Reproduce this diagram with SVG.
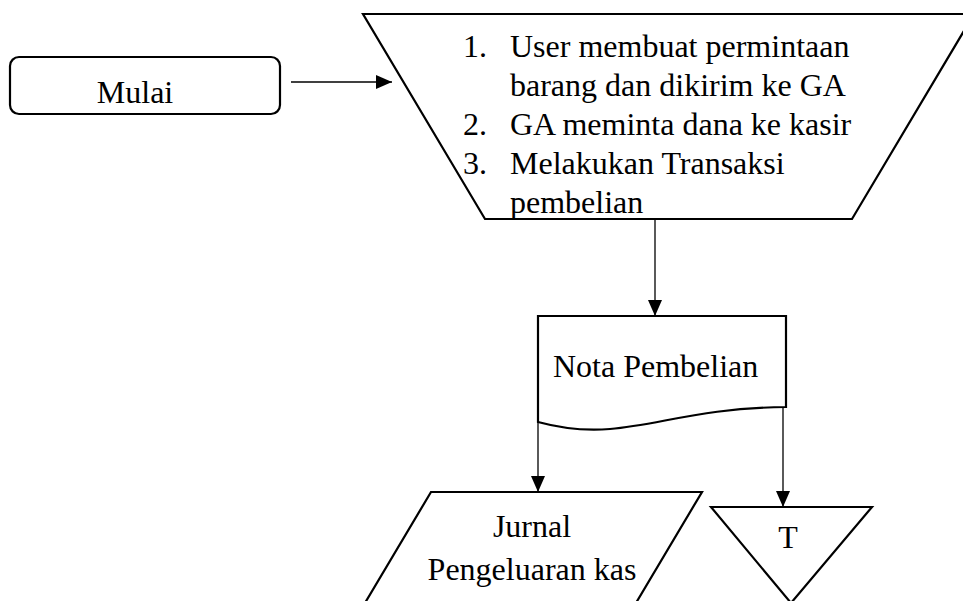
<svg xmlns="http://www.w3.org/2000/svg" width="963" height="601" viewBox="0 0 963 601">
<style>
.shape{fill:#fff;stroke:#000;stroke-width:2.2;stroke-linejoin:miter}
.conn{fill:none;stroke:#000;stroke-width:1.3}
text{font-family:"Liberation Serif","Times New Roman",serif;font-size:32px;fill:#000}
.mid{text-anchor:middle}
</style>
<defs>
<marker id="arr" markerUnits="userSpaceOnUse" markerWidth="16" markerHeight="16" viewBox="0 0 16 16" refX="16" refY="8" orient="auto">
<path d="M0,1 L16,8 L0,15 Z" fill="#000"/>
</marker>
</defs>
<rect width="963" height="601" fill="#fff"/>
<g id="mulai">
<rect class="shape" x="10" y="57" width="270" height="57" rx="9" ry="9"/>
<text class="mid" x="135" y="103">Mulai</text>
</g>
<g id="proses">
<polygon class="shape" points="363,14 974,14 852,219 485,219"/>
<text x="463" y="57">1.</text>
<text x="510" y="57">User membuat permintaan</text>
<text x="510" y="96">barang dan dikirim ke GA</text>
<text x="463" y="135">2.</text>
<text x="510" y="135">GA meminta dana ke kasir</text>
<text x="463" y="174">3.</text>
<text x="510" y="174">Melakukan Transaksi</text>
<text x="510" y="213">pembelian</text>
</g>
<g id="nota">
<path class="shape" d="M538,316 H786 V407 C700,408 660,425 610,429 C585,431 560,428 538,422 Z"/>
<text x="553" y="377">Nota Pembelian</text>
</g>
<g id="jurnal">
<polygon class="shape" points="431,492 702,492 633,608 362,608"/>
<text class="mid" x="532" y="537">Jurnal</text>
<text class="mid" x="532" y="580">Pengeluaran kas</text>
</g>
<g id="arsip">
<polygon class="shape" points="711,507 872,507 791,603"/>
<text class="mid" x="788" y="548">T</text>
</g>
<g id="connectors">
<line class="conn" x1="291" y1="82" x2="392" y2="82" marker-end="url(#arr)"/>
<line class="conn" x1="655" y1="219" x2="655" y2="316" marker-end="url(#arr)"/>
<line class="conn" x1="538" y1="422" x2="538" y2="492" marker-end="url(#arr)"/>
<line class="conn" x1="783" y1="407" x2="783" y2="507" marker-end="url(#arr)"/>
</g>
</svg>
